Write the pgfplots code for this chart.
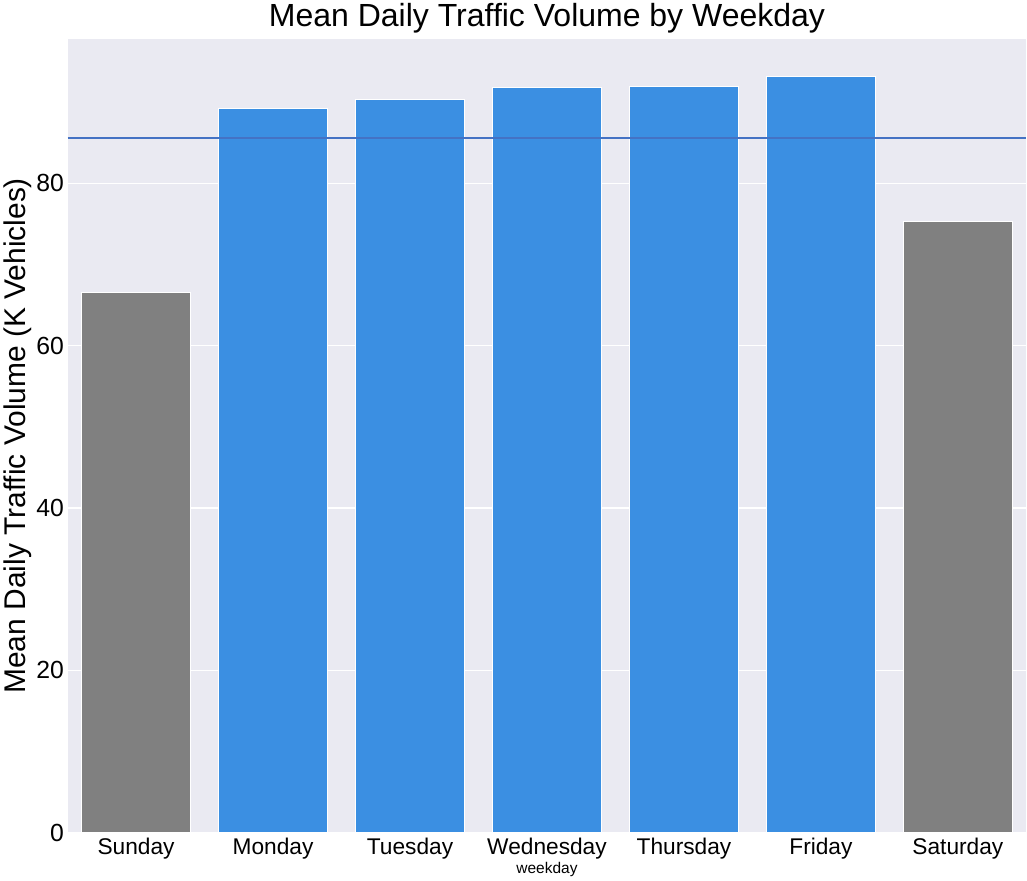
\documentclass[border=0pt]{standalone}
\usepackage{pgfplots}
\pgfplotsset{compat=1.18}
\usepackage{fontspec}
\setmainfont{Liberation Sans}
\definecolor{bg}{HTML}{EAEAF2}
\definecolor{bblue}{HTML}{3B8FE2}
\definecolor{lblue}{HTML}{4472C4}
\begin{document}
\begin{tikzpicture}[x=1pt,y=1pt]
\begin{axis}[
  scale only axis, width=929pt, height=769pt,
  xmin=-0.5, xmax=6.5, ymin=0, ymax=97.8,
  axis background/.style={fill=bg},
  axis line style={draw=none},
  major tick length=0pt,
  ymajorgrids, grid style={white, line width=1.2pt},
  ytick={0,20,40,60,80},
  xtick={0,...,6},
  xticklabels={Sunday,Monday,Tuesday,Wednesday,Thursday,Friday,Saturday},
  /pgf/number format/assume math mode=true,
  yticklabel style={font=\fontsize{24}{28}\selectfont},
  xticklabel style={font=\fontsize{22}{26}\selectfont, yshift=-2pt},
  ylabel={Mean Daily Traffic Volume (K Vehicles)},
  ylabel style={font=\fontsize{29}{33}\selectfont, yshift=-2pt},
  xlabel={weekday},
  xlabel style={font=\fontsize{15}{17}\selectfont, yshift=4pt},
  title={Mean Daily Traffic Volume by Weekday},
  title style={font=\fontsize{31}{35}\selectfont, yshift=-4pt},
]
\addplot[ybar, bar width=0.8, bar shift=0pt, fill=gray, draw=white, line width=1pt] coordinates {(0,66.6) (6,75.3)};
\addplot[ybar, bar width=0.8, bar shift=0pt, fill=bblue, draw=white, line width=1pt] coordinates {(1,89.2) (2,90.3) (3,91.8) (4,92.0) (5,93.2)};
\addplot[draw=lblue, line width=1.6pt, no marks] coordinates {(-0.5,85.6) (6.5,85.6)};
\end{axis}
\end{tikzpicture}
\end{document}
